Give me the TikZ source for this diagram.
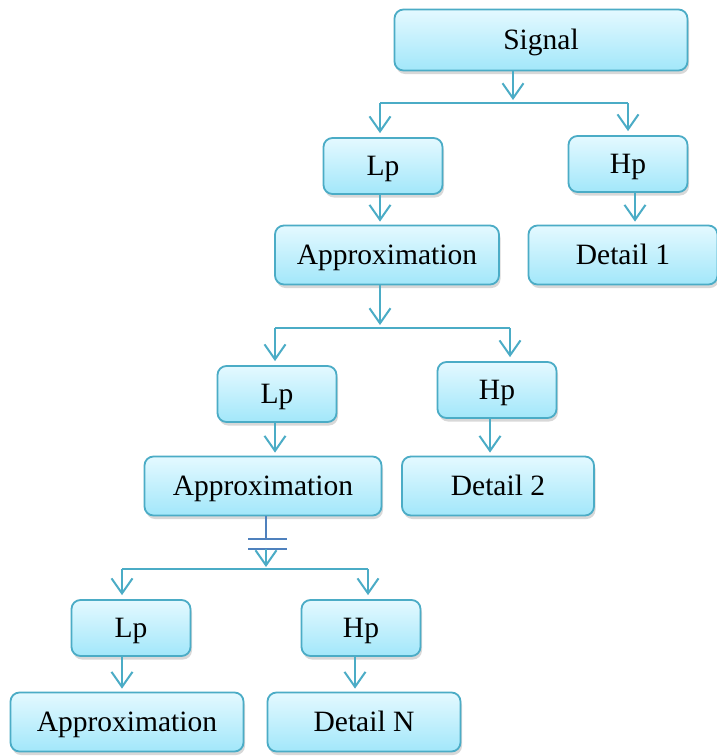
\documentclass[tikz,border=0pt]{standalone}
\usepackage{fontspec}
\setmainfont{Liberation Serif}
\usetikzlibrary{arrows.meta,positioning,shadows,calc}
\definecolor{wvline}{RGB}{75,172,198}
\definecolor{wvtop}{RGB}{228,249,255}
\definecolor{wvbot}{RGB}{162,231,250}
\definecolor{wvbreak}{RGB}{79,129,189}

\begin{document}
\begin{tikzpicture}[x=1pt,y=-1pt,
  wbox/.style={draw=wvline,line width=1.8pt,rounded corners=9pt,
    top color=wvtop,bottom color=wvbot,
    drop shadow={shadow xshift=1.5pt,shadow yshift=-3.5pt,opacity=0.3},
    font=\fontsize{29.5}{33}\selectfont,align=center,inner sep=0pt,
    text height=19.5pt,text depth=0pt},
  filt/.style={wbox,minimum width=119pt,minimum height=56pt},
  approx/.style={wbox,minimum height=59pt},
  arr/.style={-{Straight Barb[length=15pt,width=21pt,line width=2pt]},line width=2pt,wvline},
  bar/.style={line width=2pt,wvline},
  brk/.style={line width=2pt,wvbreak}
]
  \useasboundingbox[fill=white] (0,0) rectangle (717,756);

  % Boxes
  \node[wbox,minimum width=293pt,minimum height=61pt] (sig) at (541,40) {Signal};
  \node[filt] (lp1) at (383,166) {Lp};
  \node[filt] (hp1) at (628,164) {Hp};
  \node[approx,minimum width=224pt] (ap1) at (387,255) {Approximation};
  \node[approx,minimum width=189pt] (dt1) at (623,255) {Detail 1};
  \node[filt] (lp2) at (277,394) {Lp};
  \node[filt] (hp2) at (497,390) {Hp};
  \node[approx,minimum width=237pt] (ap2) at (263,486) {Approximation};
  \node[approx,minimum width=192pt] (dt2) at (498,486) {Detail 2};
  \node[filt] (lp3) at (131,628) {Lp};
  \node[filt] (hp3) at (361,628) {Hp};
  \node[approx,minimum width=233pt] (ap3) at (127,722) {Approximation};
  \node[approx,minimum width=193pt] (dtn) at (364,722) {Detail N};

  % Level 1
  \coordinate (j1) at (513,103);
  \coordinate (j1l) at (380,103);
  \coordinate (j1r) at (628,103);
  \draw[arr,shorten >=3pt] (sig.south -| j1) -- (j1);
  \draw[bar] (j1l) -- (j1r);
  \draw[arr,shorten >=4pt] (j1l) -- (j1l |- lp1.north);
  \draw[arr,shorten >=4pt] (j1r) -- (j1r |- hp1.north);
  \draw[arr,shorten >=3pt] (lp1.south -| j1l) -- (j1l |- ap1.north);
  \draw[arr,shorten >=3pt] ([xshift=7pt]hp1.south) -- ([xshift=7pt]hp1.south |- dt1.north);

  % Level 2
  \coordinate (j2) at (380,328);
  \coordinate (j2l) at (275,328);
  \coordinate (j2r) at (510,328);
  \draw[arr,shorten >=3pt] (ap1.south -| j2) -- (j2);
  \draw[bar] (j2l) -- (j2r);
  \draw[arr,shorten >=4pt] (j2l) -- (j2l |- lp2.north);
  \draw[arr,shorten >=4pt] (j2r) -- (j2r |- hp2.north);
  \draw[arr,shorten >=3pt] (lp2.south -| j2l) -- (j2l |- ap2.north);
  \draw[arr,shorten >=3pt] ([xshift=-7pt]hp2.south) -- ([xshift=-7pt]hp2.south |- dt2.north);

  % Level 3 (after the break)
  \coordinate (b1) at (266,539);
  \coordinate (b2) at (266,549);
  \coordinate (j3) at (266,569);
  \coordinate (j3l) at (122,569);
  \coordinate (j3r) at (368,569);
  \draw[brk] (ap2.south -| b1) -- (b1);
  \draw[brk] ([xshift=-18pt]b1) -- ([xshift=21pt]b1);
  \draw[brk] ([xshift=-18pt]b2) -- ([xshift=21pt]b2);
  \draw[arr,shorten >=2pt] (b2) -- (j3);
  \draw[bar] (j3l) -- (j3r);
  \draw[arr,shorten >=4pt] (j3l) -- (j3l |- lp3.north);
  \draw[arr,shorten >=4pt] (j3r) -- (j3r |- hp3.north);
  \draw[arr,shorten >=3pt] (lp3.south -| j3l) -- (j3l |- ap3.north);
  \draw[arr,shorten >=3pt] ([xshift=-6pt]hp3.south) -- ([xshift=-6pt]hp3.south |- dtn.north);
\end{tikzpicture}
\end{document}
